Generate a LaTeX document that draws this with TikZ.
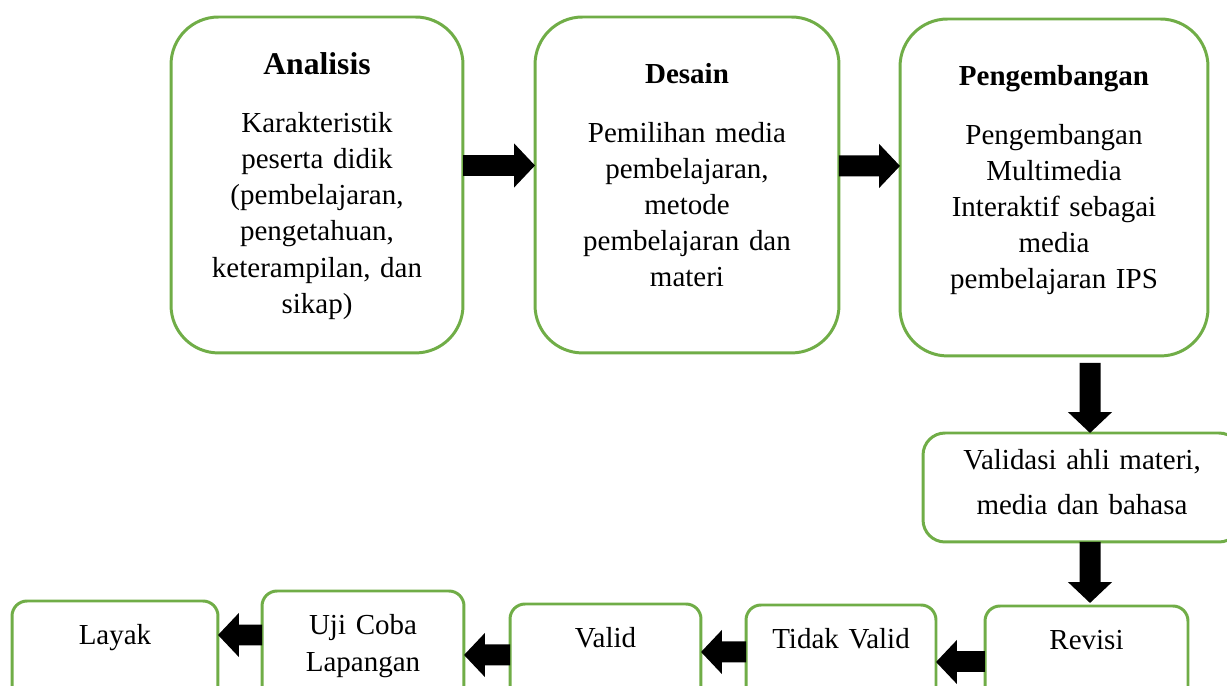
\documentclass[tikz,border=0pt]{standalone}
\usepackage{fontspec}
\setmainfont{Liberation Serif}
\usetikzlibrary{arrows.meta}

\definecolor{boxgreen}{RGB}{112,173,71}

\tikzstyle{phase}=[
    rectangle,
    rounded corners=0.95cm,
    line width=1.7pt,
    draw=boxgreen,
    inner sep=0pt,
    outer sep=0pt,
    align=center,
    anchor=north,
    font=\fontsize{16.5}{20.6}\selectfont
]
\tikzstyle{check}=[
    phase,
    rounded corners=0.3cm,
    text height=0.88cm,
    text depth=1.6cm
]
\tikzstyle{flow}=[
    line width=0.42cm,
    -{Triangle[width=0.86cm,length=0.42cm]}
]

\begin{document}
\begin{tikzpicture}[x=0.02cm,y=-0.02cm]
	\useasboundingbox (0,0) rectangle (1227,686);
	\clip (0,0) rectangle (1227,686);

	% TOP ROW
	\node (analisis) [phase, text width=5.84cm, text height=1.16cm, text depth=5.56cm] at (317,17)
		{\textbf{\fontsize{18}{20.6}\selectfont Analisis}\\[12pt]
		Karakteristik\\ peserta didik\\ (pembelajaran,\\ pengetahuan,\\ keterampilan, dan\\ sikap)};
	\node (desain) [phase, text width=6.08cm, text height=1.34cm, text depth=5.38cm] at (687,17)
		{\textbf{Desain}\\[12.5pt]
		Pemilihan media\\ pembelajaran,\\ metode\\ pembelajaran dan\\ materi};
	\node (pengembangan) [phase, text width=6.16cm, text height=1.34cm, text depth=5.40cm] at (1054,19)
		{\textbf{Pengembangan}\\[12.5pt]
		Pengembangan\\ Multimedia\\ Interaktif sebagai\\ media\\ pembelajaran IPS};

	% VALIDATION
	\node (validasi) [phase, rounded corners=0.44cm, text width=6.36cm, text height=0.74cm, text depth=1.44cm] at (1082,433)
		{Validasi ahli materi,\\[5pt] media dan bahasa};

	% BOTTOM ROW
	\node (revisi) [check, text width=4.06cm] at (1086.5,606) {Revisi};
	\node (tidak) [check, text width=3.8cm] at (841,605) {Tidak Valid};
	\node (valid) [check, text width=3.82cm] at (605.5,604) {Valid};
	\node (uji) [check, text width=4.04cm] at (363,591) {Uji Coba\\ Lapangan};
	\node (layak) [check, text width=4.12cm] at (115,601) {Layak};

	\path[flow]
	% Top connections
	([yshift=0.39cm]analisis.east) edge ([yshift=0.39cm]desain.west)
	([yshift=0.38cm]desain.east) edge ([yshift=0.43cm]pengembangan.west)

	% Down connections
	([xshift=0.72cm]pengembangan.south) edge[shorten <=0.14cm] ([xshift=0.16cm]validasi.north)
	([xshift=0.16cm]validasi.south) edge[shorten >=0.06cm] ([xshift=0.07cm]revisi.north)

	% Bottom connections
	([yshift=-1.12cm]revisi.north west) edge ([yshift=-1.14cm]tidak.north east)
	([yshift=-0.94cm]tidak.north west) edge ([yshift=-0.96cm]valid.north east)
	([yshift=-1.02cm]valid.north west) edge ([yshift=-1.28cm]uji.north east)
	([yshift=-0.88cm]uji.north west) edge ([yshift=-0.68cm]layak.north east)
	;
\end{tikzpicture}
\end{document}
